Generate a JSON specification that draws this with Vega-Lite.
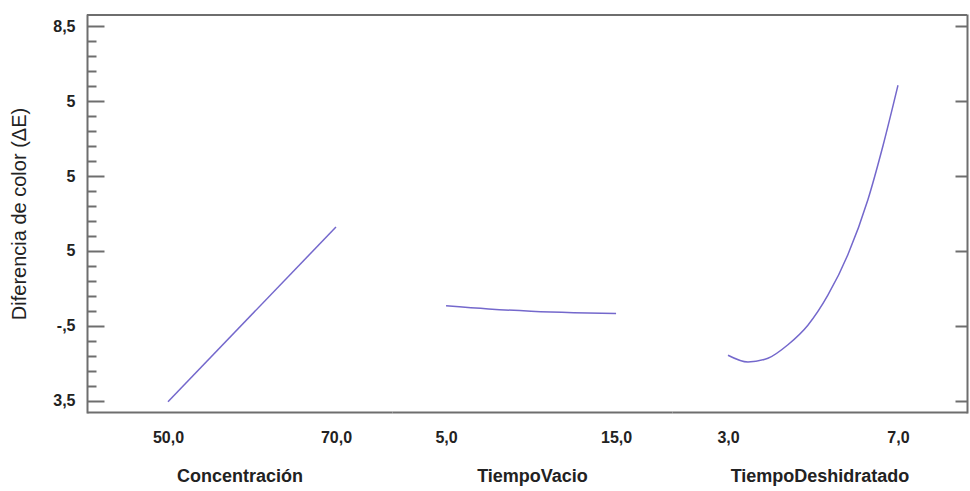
{
  "$schema": "https://vega.github.io/schema/vega-lite/v6.json",
  "padding": {"left": 9, "top": 14, "right": 1, "bottom": 5},
  "background": "white",
  "bounds": "flush",
  "datasets": {
    "conc": [
      {"Concentracion": 50, "DeltaE": 3.49},
      {"Concentracion": 70, "DeltaE": 5.82}
    ],
    "vacio": [
      {"TiempoVacio": 5, "DeltaE": 4.77},
      {"TiempoVacio": 7.5, "DeltaE": 4.728},
      {"TiempoVacio": 10, "DeltaE": 4.697},
      {"TiempoVacio": 12.5, "DeltaE": 4.678},
      {"TiempoVacio": 15, "DeltaE": 4.668}
    ],
    "deshid": [
      {"TiempoDeshidratado": 3.0, "DeltaE": 4.11},
      {"TiempoDeshidratado": 3.47, "DeltaE": 4.02},
      {"TiempoDeshidratado": 3.94, "DeltaE": 4.07},
      {"TiempoDeshidratado": 4.41, "DeltaE": 4.25},
      {"TiempoDeshidratado": 4.88, "DeltaE": 4.51},
      {"TiempoDeshidratado": 5.35, "DeltaE": 4.91},
      {"TiempoDeshidratado": 5.82, "DeltaE": 5.45},
      {"TiempoDeshidratado": 6.29, "DeltaE": 6.18},
      {"TiempoDeshidratado": 6.65, "DeltaE": 6.91},
      {"TiempoDeshidratado": 7.0, "DeltaE": 7.71}
    ]
  },
  "spacing": 0,
  "hconcat": [
    {
      "width": 305,
      "height": 397,
      "resolve": {"axis": {"y": "independent"}},
      "layer": [
        {
          "data": {"name": "conc"},
          "mark": {"type": "line", "color": "#7468cc", "strokeWidth": 1.5},
          "encoding": {
            "x": {
              "field": "Concentracion", "type": "quantitative",
              "scale": {"domain": [40.36, 76.67], "nice": false, "zero": false},
              "axis": {"title": "Concentración", "values": [50, 70], "labelExpr": "replace(format(datum.value, '.1f'), '.', ',')", "ticks": false, "grid": false}
            },
            "y": {
              "field": "DeltaE", "type": "quantitative",
              "scale": {"domain": [3.353, 8.647], "nice": false, "zero": false},
              "axis": {
                "title": "Diferencia de color (ΔE)",
                "orient": "left",
                "grid": false,
                "values": [3.5, 4.5, 5.5, 6.5, 7.5, 8.5],
                "labelExpr": "round(datum.value*10) == 85 ? '8,5' : round(datum.value*10) == 35 ? '3,5' : round(datum.value*10) == 45 ? '-,5' : '5'",
                "labelOverlap": false,
                "tickSize": -17,
                "labelPadding": 29,
                "titlePadding": 23,
                "titleFontSize": 20,
                "titleFontWeight": "normal"
              }
            }
          }
        },
        {
          "data": {"name": "conc"},
          "mark": {"type": "rule", "color": "#6e6e6e", "strokeWidth": 2},
          "encoding": {
            "y": {
              "datum": 8.647,
              "type": "quantitative",
              "axis": {
                "orient": "left",
                "title": null,
                "labels": false,
                "domain": false,
                "grid": false,
                "values": [3.7, 3.9, 4.1, 4.3, 4.7, 4.9, 5.1, 5.3, 5.7, 5.9, 6.1, 6.3, 6.7, 6.9, 7.1, 7.3, 7.7, 7.9, 8.1, 8.3],
                "tickSize": -9
              }
            }
          }
        }
      ]
    },
    {
      "width": 280,
      "height": 397,
      "layer": [
        {
          "data": {"name": "vacio"},
          "mark": {"type": "line", "color": "#7468cc", "strokeWidth": 1.5, "interpolate": "monotone"},
          "encoding": {
            "x": {
              "field": "TiempoVacio", "type": "quantitative",
              "scale": {"domain": [1.82, 18.29], "nice": false, "zero": false},
              "axis": {"title": "TiempoVacio", "values": [5, 15], "labelExpr": "replace(format(datum.value, '.1f'), '.', ',')", "ticks": false, "grid": false}
            },
            "y": {
              "field": "DeltaE", "type": "quantitative",
              "scale": {"domain": [3.353, 8.647], "nice": false, "zero": false},
              "axis": null
            }
          }
        },
        {
          "data": {"name": "vacio"},
          "mark": {"type": "rule", "color": "#6e6e6e", "strokeWidth": 2},
          "encoding": {"y": {"datum": 8.647}}
        }
      ]
    },
    {
      "width": 295,
      "height": 397,
      "layer": [
        {
          "data": {"name": "deshid"},
          "mark": {"type": "line", "color": "#7468cc", "strokeWidth": 1.5, "interpolate": "monotone"},
          "encoding": {
            "x": {
              "field": "TiempoDeshidratado", "type": "quantitative",
              "scale": {"domain": [1.682, 8.624], "nice": false, "zero": false},
              "axis": {"title": "TiempoDeshidratado", "values": [3, 7], "labelExpr": "replace(format(datum.value, '.1f'), '.', ',')", "ticks": false, "grid": false}
            },
            "y": {
              "field": "DeltaE", "type": "quantitative",
              "scale": {"domain": [3.353, 8.647], "nice": false, "zero": false},
              "axis": {"orient": "right", "title": null, "labels": false, "grid": false, "values": [3.5, 4.5, 5.5, 6.5, 7.5, 8.5], "tickSize": -12}
            }
          }
        },
        {
          "data": {"name": "deshid"},
          "mark": {"type": "rule", "color": "#6e6e6e", "strokeWidth": 2},
          "encoding": {"y": {"datum": 8.647}}
        }
      ]
    }
  ],
  "config": {
    "view": {"stroke": null},
    "font": "Liberation Sans",
    "axis": {
      "domainColor": "#6e6e6e",
      "domainWidth": 2,
      "domainCap": "square",
      "tickColor": "#6e6e6e",
      "tickWidth": 2,
      "labelFont": "Liberation Sans",
      "labelFontSize": 16,
      "labelFontWeight": "bold",
      "labelColor": "#222222",
      "titleFont": "Liberation Sans",
      "titleFontSize": 18,
      "titleFontWeight": "bold",
      "titleColor": "#222222"
    },
    "axisX": {"labelPadding": 17, "titlePadding": 22, "domainCap": "butt"}
  }
}
